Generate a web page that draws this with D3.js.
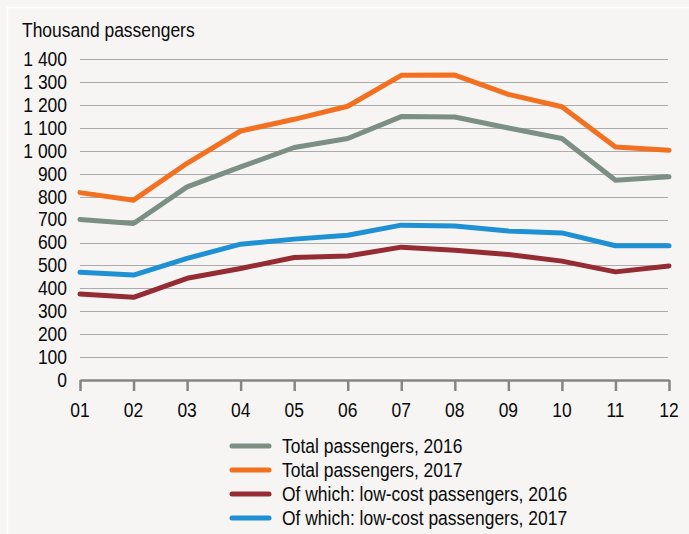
<!DOCTYPE html>
<html>
<head>
<meta charset="utf-8">
<script src="https://cdn.jsdelivr.net/npm/d3@7"></script>
<style>
  html, body { margin: 0; padding: 0; background: #f6f5f4; }
  svg { display: block; }
  text { font-family: "Liberation Sans", Arial, sans-serif; fill: #0a0a0a; }
</style>
</head>
<body>
<div id="chart"></div>
<script>
var svgWidth = 689;
var svgHeight = 534;

// chart values
var months = ["01", "02", "03", "04", "05", "06", "07", "08", "09", "10", "11", "12"];
var yTicks = [0, 100, 200, 300, 400, 500, 600, 700, 800, 900, 1000, 1100, 1200, 1300, 1400];
var total2016 = [701, 683, 843, 930, 1015, 1054, 1150, 1148, 1100, 1054, 872, 887];
var total2017 = [818, 785, 946, 1087, 1138, 1195, 1330, 1331, 1247, 1193, 1017, 1003];
var lowcost2016 = [375, 361, 444, 487, 535, 541, 580, 566, 548, 519, 472, 498];
var lowcost2017 = [470, 458, 531, 593, 615, 632, 676, 672, 650, 642, 586, 586];

var seriesNames = ["Total passengers, 2016", "Total passengers, 2017",
  "Of which: low-cost passengers, 2016", "Of which: low-cost passengers, 2017"];
var seriesColors = ["#7b8f83", "#f37021", "#952c34", "#1f90d4"];
var seriesData = [total2016, total2017, lowcost2016, lowcost2017];

var fontSize = 19.5;
var squeeze = 0.895;   // the original type is a bit condensed

var svg = d3.select("#chart")
  .append("svg")
  .attr("width", svgWidth)
  .attr("height", svgHeight);

// thin white frame
svg.append("rect")
  .attr("x", 7.5).attr("y", 7.5)
  .attr("width", svgWidth).attr("height", svgHeight)
  .attr("fill", "none")
  .attr("stroke", "#ffffff")
  .attr("stroke-width", 1.5);

var xScale = d3.scalePoint()
  .domain(months)
  .range([80, 669]);

var yScale = d3.scaleLinear()
  .domain([0, 1400])
  .range([380, 59.3]);

var fmt = function(v) {
  return d3.format(",")(v).replace(/,/g, " ");
};

// helper for condensed text
function label(g, x, y, txt, anchor) {
  return g.append("text")
    .attr("transform", `translate(${x}, ${y}) scale(${squeeze}, 1)`)
    .attr("text-anchor", anchor || "start")
    .attr("font-size", fontSize)
    .text(txt);
}

// gridlines
svg.append("g")
  .selectAll("line")
  .data(yTicks.filter(d => d > 0))
  .enter().append("line")
  .attr("x1", 80).attr("x2", 668)
  .attr("y1", d => Math.round(yScale(d)) + 0.5)
  .attr("y2", d => Math.round(yScale(d)) + 0.5)
  .attr("stroke", "#ababab")
  .attr("stroke-width", 1);

// y labels
var yLab = svg.append("g");
yTicks.forEach(d => label(yLab, 67, yScale(d) + 6.8, fmt(d), "end"));

// x axis
var xAxis = d3.axisBottom(xScale).tickSizeInner(11).tickSizeOuter(0).tickFormat("");
var xg = svg.append("g")
  .attr("transform", "translate(0, 380)")
  .call(xAxis);
xg.select(".domain").attr("stroke", "#858585").attr("stroke-width", 2.5);
xg.selectAll(".tick line").attr("stroke", "#858585").attr("stroke-width", 2.5);

var xLab = svg.append("g");
months.forEach(m => label(xLab, xScale(m), 417, m, "middle"));

// lines
var line = d3.line()
  .x((d, i) => xScale(months[i]))
  .y(d => yScale(d));

svg.append("g")
  .selectAll("path")
  .data(seriesData)
  .enter().append("path")
  .attr("d", d => line(d))
  .attr("fill", "none")
  .attr("stroke", (d, i) => seriesColors[i])
  .attr("stroke-width", 5)
  .attr("stroke-linejoin", "round")
  .attr("stroke-linecap", "round");

// title
label(svg, 22, 37, "Thousand passengers");

// legend
seriesNames.forEach((name, i) => {
  var cy = 446 + i * 24;
  svg.append("line")
    .attr("x1", 232).attr("x2", 269)
    .attr("y1", cy).attr("y2", cy)
    .attr("stroke", seriesColors[i])
    .attr("stroke-width", 5)
    .attr("stroke-linecap", "round");
  label(svg, 282, cy + 7, name);
});
</script>
</body>
</html>
